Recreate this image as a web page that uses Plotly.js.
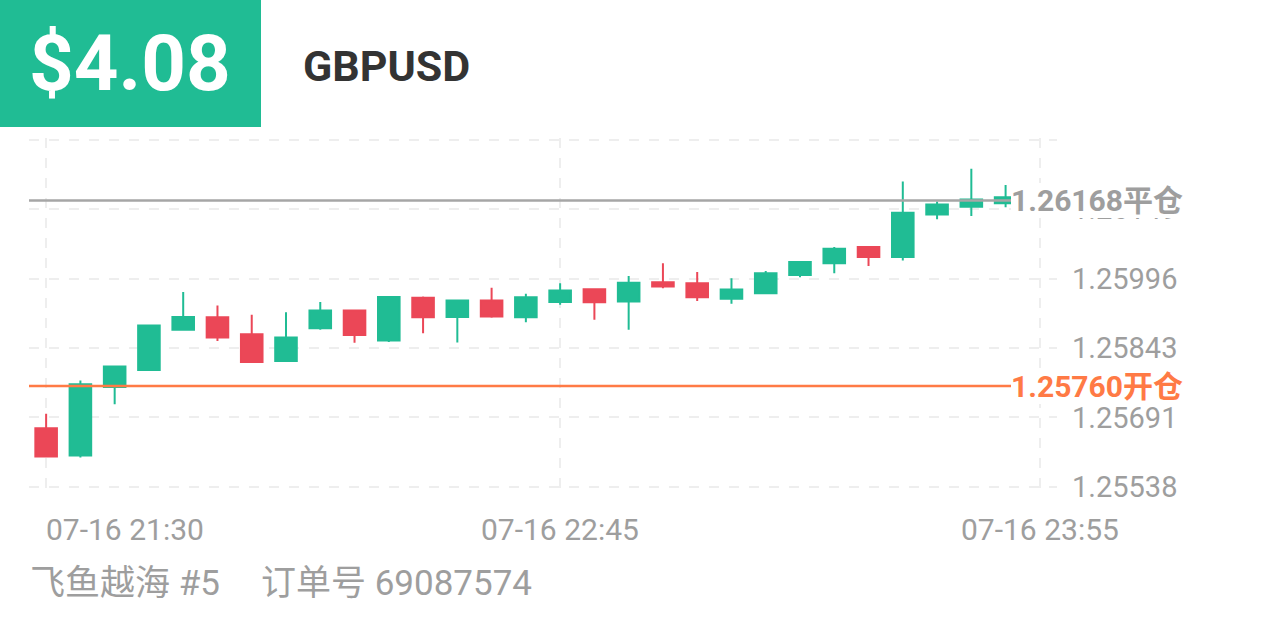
<!DOCTYPE html>
<html>
<head>
<meta charset="utf-8">
<script src="https://cdn.plot.ly/plotly-3.0.1.min.js"></script>
<style>
  html, body { margin: 0; padding: 0; background: #ffffff; }
  #chart { width: 1266px; height: 633px; }
</style>
</head>
<body>
<div id="chart"></div>
<script>
// ---------- data ----------
const candleIndex = [0,1,2,3,4,5,6,7,8,9,10,11,12,13,14,15,16,17,18,19,20,21,22,23,24,25,26,27,28];
const openVals  = [1.25667,1.25607,1.25758,1.25795,1.25884,1.25911,1.25874,1.25815,1.25887,1.25926,1.25860,1.25954,1.25912,1.25948,1.25911,1.25945,1.25973,1.25946,1.25988,1.25986,1.25952,1.25964,1.26004,1.26030,1.26066,1.26044,1.26137,1.26154,1.26162];
const highVals  = [1.25699,1.25772,1.25804,1.25894,1.25967,1.25937,1.25917,1.25922,1.25945,1.25927,1.25957,1.25957,1.25949,1.25976,1.25963,1.25986,1.25975,1.26002,1.26030,1.26011,1.25997,1.26013,1.26035,1.26066,1.26068,1.26210,1.26166,1.26238,1.26202];
const lowVals   = [1.25604,1.25603,1.25720,1.25794,1.25883,1.25859,1.25812,1.25814,1.25884,1.25855,1.25857,1.25876,1.25856,1.25910,1.25900,1.25939,1.25906,1.25884,1.25975,1.25947,1.25941,1.25963,1.25999,1.26008,1.26024,1.26036,1.26127,1.26134,1.26153];
const closeVals = [1.25605,1.25764,1.25803,1.25893,1.25912,1.25867,1.25813,1.25867,1.25926,1.25872,1.25956,1.25911,1.25948,1.25913,1.25955,1.25970,1.25944,1.25987,1.25979,1.25955,1.25972,1.26008,1.26033,1.26062,1.26044,1.26141,1.26159,1.26170,1.26175];

const xTickPos    = [0, 15, 29];
const xTickLabels = ['07-16 21:30', '07-16 22:45', '07-16 23:55'];
const yTickVals   = [1.25538, 1.25691, 1.25843, 1.25996, 1.26149, 1.26301];
const yTickLabels = ['1.25538', '1.25691', '1.25843', '1.25996', '1.26149', ''];

const openPrice  = 1.25760;
const closePrice = 1.26168;
const profitText = '$4.08';
const symbol     = 'GBPUSD';
const footerLeft  = '飞鱼越海 #5';
const footerRight = '订单号 69087574';

// ---------- layout helpers ----------
const W = 1266, H = 633;
const ml = 29, mr = 209, mt = 138, mb = 144;
const pw = W - ml - mr, ph = H - mt - mb;
const fx = px => (px - ml) / pw;
const fy = py => (H - mb - py) / ph;
// small padding (in price units) so the first/last grid lines sit inside the plot
const yPad = (yTickVals[1] - yTickVals[0]) * 2 / 69.4;

const GREEN = '#20bc94';
const RED = '#eb4757';
const ORANGE = '#ff7a45';
const GRAY_LINE = '#a6a6a6';
const GRAY_TEXT = '#9e9e9e';
const FONT = 'Roboto, "Noto Sans CJK SC", sans-serif';

const trace = {
  type: 'candlestick',
  x: candleIndex,
  open: openVals, high: highVals, low: lowVals, close: closeVals,
  increasing: { line: { color: GREEN, width: 2 }, fillcolor: GREEN },
  decreasing: { line: { color: RED, width: 2 }, fillcolor: RED },
  whiskerwidth: 0,
  hoverinfo: 'skip',
  showlegend: false
};

const annotations = [
  { xref: 'paper', yref: 'paper', x: fx(29), y: fy(64), xanchor: 'left', yanchor: 'middle',
    text: profitText, showarrow: false, borderpad: 0, borderwidth: 0,
    font: { family: FONT, size: 78, color: '#ffffff', weight: 700 } },
  { xref: 'paper', yref: 'paper', x: fx(303), y: fy(66), xanchor: 'left', yanchor: 'middle',
    text: symbol, showarrow: false, borderpad: 0, borderwidth: 0,
    font: { family: FONT, size: 43, color: '#333333', weight: 700 } },
  { xref: 'paper', yref: 'y', x: fx(1011), y: closePrice, xanchor: 'left', yanchor: 'middle',
    text: closePrice.toFixed(5) + '平仓', showarrow: false, bgcolor: '#ffffff', borderpad: 0, borderwidth: 0,
    font: { family: FONT, size: 30, color: GRAY_TEXT, weight: 700 } },
  { xref: 'paper', yref: 'y', x: fx(1011), y: openPrice, xanchor: 'left', yanchor: 'middle',
    text: openPrice.toFixed(5) + '开仓', showarrow: false, bgcolor: '#ffffff', borderpad: 0, borderwidth: 0,
    font: { family: FONT, size: 30, color: ORANGE, weight: 700 } },
  { xref: 'paper', yref: 'paper', x: fx(30), y: fy(583), xanchor: 'left', yanchor: 'middle',
    text: footerLeft, showarrow: false, borderpad: 0, borderwidth: 0,
    font: { family: FONT, size: 35, color: GRAY_TEXT } },
  { xref: 'paper', yref: 'paper', x: fx(261), y: fy(583), xanchor: 'left', yanchor: 'middle',
    text: footerRight, showarrow: false, borderpad: 0, borderwidth: 0,
    font: { family: FONT, size: 35, color: GRAY_TEXT } }
];

xTickPos.forEach((p, i) => {
  annotations.push({
    xref: 'x', yref: 'paper', x: p, y: fy(529),
    xanchor: i === 0 ? 'left' : 'center', yanchor: 'middle',
    text: xTickLabels[i], showarrow: false, borderpad: 0, borderwidth: 0,
    font: { family: FONT, size: 30, color: GRAY_TEXT }
  });
});

const shapes = [
  { type: 'rect', xref: 'paper', yref: 'paper', x0: fx(0), x1: fx(261), y0: fy(127), y1: fy(0),
    fillcolor: GREEN, line: { width: 0 }, layer: 'below' },
  { type: 'line', xref: 'paper', yref: 'y', x0: 0, x1: fx(1012), y0: closePrice, y1: closePrice,
    line: { color: GRAY_LINE, width: 2.5 } },
  { type: 'line', xref: 'paper', yref: 'y', x0: 0, x1: fx(1012), y0: openPrice, y1: openPrice,
    line: { color: ORANGE, width: 2.5 } }
];

const layout = {
  width: W, height: H,
  margin: { l: ml, r: mr, t: mt, b: mb, pad: 0 },
  paper_bgcolor: '#ffffff', plot_bgcolor: '#ffffff',
  showlegend: false,
  boxgap: 0.37, boxgroupgap: 0,
  font: { family: FONT, color: GRAY_TEXT },
  xaxis: {
    type: 'linear', range: [-0.5, 29.5], fixedrange: true,
    rangeslider: { visible: false },
    tickmode: 'array', tickvals: xTickPos, ticktext: xTickLabels,
    showticklabels: false, ticks: '',
    showgrid: true, gridcolor: '#eeeeee', gridwidth: 2, griddash: '10px,10px',
    zeroline: false, showline: false
  },
  yaxis: {
    side: 'right', range: [yTickVals[0] - yPad, yTickVals[yTickVals.length - 1] + yPad], fixedrange: true,
    tickmode: 'array', tickvals: yTickVals, ticktext: yTickLabels,
    ticks: '', ticklabelstandoff: 14, automargin: false,
    tickfont: { family: FONT, size: 29, color: GRAY_TEXT },
    showgrid: true, gridcolor: '#eeeeee', gridwidth: 2, griddash: '10px,10px',
    zeroline: false, showline: false
  },
  annotations: annotations,
  shapes: shapes
};

Plotly.newPlot('chart', [trace], layout, { staticPlot: true, displayModeBar: false });
</script>
</body>
</html>
